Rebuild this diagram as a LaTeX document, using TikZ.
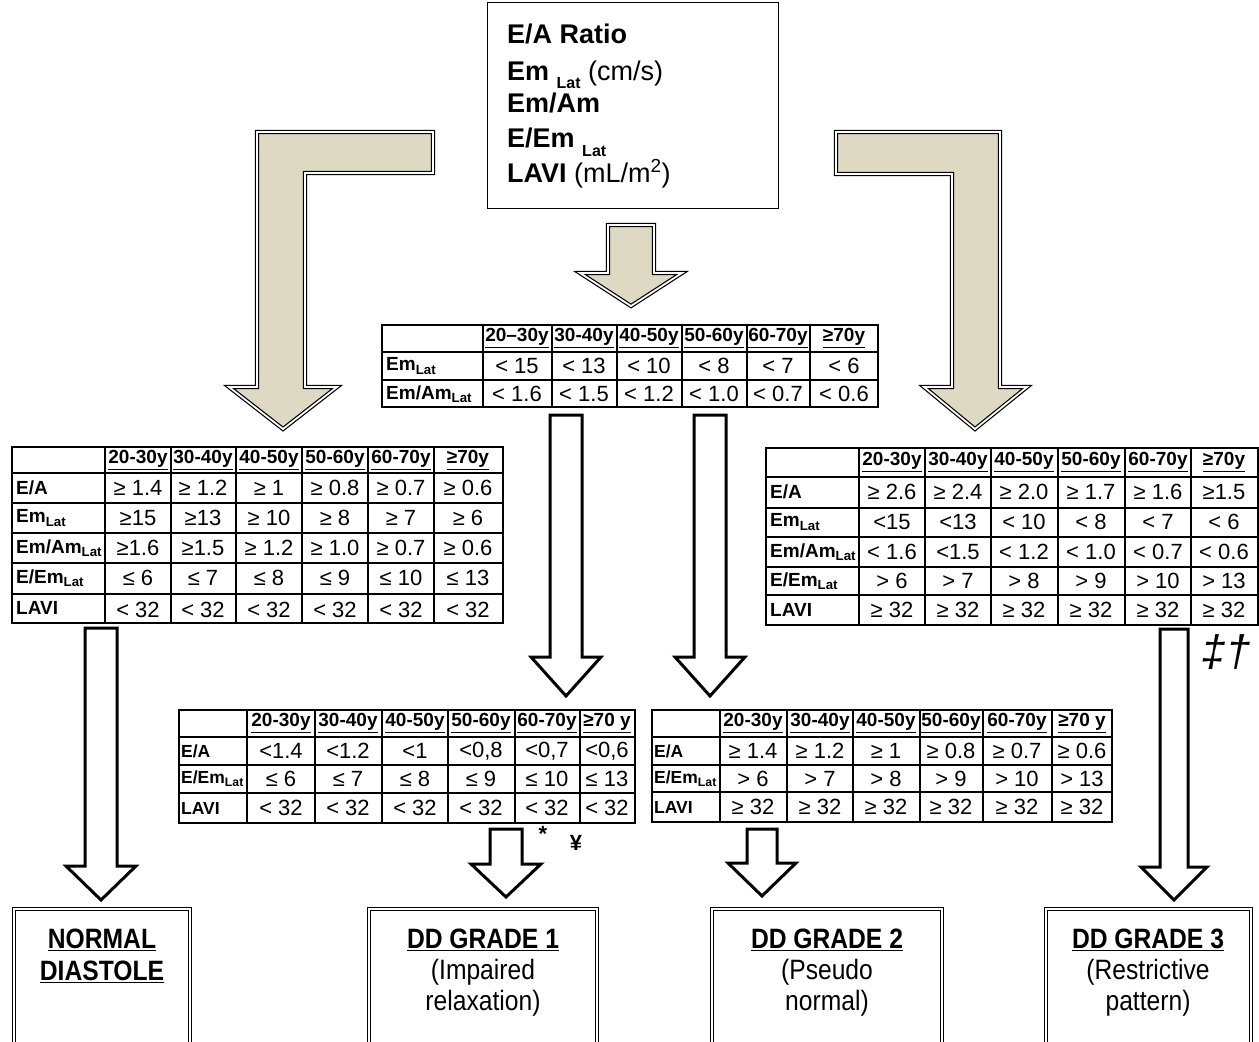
\documentclass[tikz,border=0pt]{standalone}
\usepackage{fontspec}
\setmainfont{Liberation Sans}
\newfontfamily\narrowsans[FakeStretch=0.88]{Liberation Sans}
\definecolor{arrowbeige}{HTML}{DDD9C3}
\newcommand{\Lat}{\textsubscript{Lat}}

\begin{document}
\begin{tikzpicture}[x=1pt, y=-1pt, line join=miter,
    cell/.style={font=\fontsize{22}{24}\selectfont, inner sep=0pt},
    hdr/.style={font=\fontsize{19}{22}\selectfont\bfseries, inner sep=0pt},
    lbl/.style={font=\fontsize{19}{22}\selectfont\bfseries, anchor=west, inner sep=0pt},
    smalllbl/.style={lbl, font=\fontsize{17.5}{20}\selectfont\bfseries},
    tabline/.style={line width=1.7pt},
    bigarrow/.style={draw=black, fill=arrowbeige, double=white, double distance=1.8pt, line width=1.2pt},
    hollow/.style={draw=black, fill=white, line width=3pt},
    result/.style={draw=black, double=white, double distance=2pt, line width=1.3pt},
    restxt/.style={font=\narrowsans\fontsize{28}{31}\selectfont, inner sep=0pt},
    toptxt/.style={font=\fontsize{27}{30}\selectfont\bfseries, anchor=base west, inner sep=0pt}]
    \useasboundingbox (0,0) rectangle (1259,1042);
    \clip (0,0) rectangle (1259,1042);

    % quadro dos parametros
    \node[draw, line width=1.3pt, minimum width=291pt, minimum height=206pt, anchor=north west, inner sep=0pt] (params) at (487,2) {};
    \node[toptxt] (pEA) at (507,43) {E/A Ratio};
    \node[toptxt] (pEm) at (507,80) {Em \raisebox{-8pt}{\fontsize{16}{16}\selectfont Lat} \mdseries(cm/s)};
    \node[toptxt] (pEmAm) at (507,112) {Em/Am};
    \node[toptxt] (pEEm) at (507,147) {E/Em \raisebox{-9pt}{\fontsize{16}{16}\selectfont Lat}};
    \node[toptxt] (pLAVI) at (507,182) {LAVI \mdseries(mL/m\textsuperscript{2})};

    % setas beges
    \draw[bigarrow] (433,132) -- (257,132) -- (257,387) -- (229,387) -- (283,429) -- (337,387) -- (305,387) -- (305,173) -- (433,173) -- cycle;
    \draw[bigarrow] (836,132) -- (1000,132) -- (1000,387) -- (1027,387) -- (975,429) -- (924,387) -- (952,387) -- (952,174) -- (836,174) -- cycle;
    \draw[bigarrow] (608,225) -- (654,225) -- (654,273) -- (682,273) -- (631,306) -- (580,273) -- (608,273) -- cycle;

    % tabela central (Em e Em/Am)
    \draw[tabline] (382,325) rectangle (878,407);
    \foreach \x in {483,552,617,682,747,810} \draw[tabline] (\x,325) -- (\x,407);
    \foreach \y in {352,380} \draw[tabline] (382,\y) -- (878,\y);
    \node[lbl] (mEm) at (386,366) {Em\Lat};
    \node[lbl] (mEmAm) at (386,394) {Em/Am\Lat};
    \foreach \x/\h/\va/\vb [count=\i] in {
        517/20–30y/< 15/< 1.6,
        584/30-40y/< 13/< 1.5,
        649/40-50y/< 10/< 1.2,
        714/50-60y/< 8/< 1.0,
        778/60-70y/< 7/< 0.7,
        844/≥70y/< 6/< 0.6}{
      \node[hdr] (mh\i) at (\x,338) {\underline{\h}};
      \node[cell] (ma\i) at (\x,366) {\va};
      \node[cell] (mb\i) at (\x,394) {\vb};
    }

    % tabela: diastole normal
    \draw[tabline] (12,447) rectangle (503,623);
    \foreach \x in {105,171,236,302,368,434} \draw[tabline] (\x,447) -- (\x,623);
    \foreach \y in {473,503,533,563,594} \draw[tabline] (12,\y) -- (503,\y);
    \node[lbl] (nEA) at (16,488) {E/A};
    \node[lbl] (nEm) at (16,518) {Em\Lat};
    \node[lbl] (nEmAm) at (16,548) {Em/Am\Lat};
    \node[lbl] (nEEm) at (16,578) {E/Em\Lat};
    \node[lbl] (nLAVI) at (16,608) {LAVI};
    \foreach \x/\h/\va/\vb/\vc/\vd/\ve [count=\i] in {
        138/20-30y/≥ 1.4/≥15/≥1.6/≤ 6/< 32,
        203/30-40y/≥ 1.2/≥13/≥1.5/≤ 7/< 32,
        269/40-50y/≥ 1/≥ 10/≥ 1.2/≤ 8/< 32,
        335/50-60y/≥ 0.8/≥ 8/≥ 1.0/≤ 9/< 32,
        401/60-70y/≥ 0.7/≥ 7/≥ 0.7/≤ 10/< 32,
        468/≥70y/≥ 0.6/≥ 6/≥ 0.6/≤ 13/< 32}{
      \node[hdr] (nh\i) at (\x,460) {\underline{\h}};
      \node[cell] (na\i) at (\x,488) {\va};
      \node[cell] (nb\i) at (\x,518) {\vb};
      \node[cell] (nc\i) at (\x,548) {\vc};
      \node[cell] (nd\i) at (\x,578) {\vd};
      \node[cell] (ne\i) at (\x,610) {\ve};
    }

    % tabela: grau 3 (restritivo)
    \draw[tabline] (766,448) rectangle (1258,625);
    \foreach \x in {859,925,991,1058,1125,1191} \draw[tabline] (\x,448) -- (\x,625);
    \foreach \y in {477,508,537,567,595} \draw[tabline] (766,\y) -- (1258,\y);
    \node[lbl] (rEA) at (770,492) {E/A};
    \node[lbl] (rEm) at (770,522) {Em\Lat};
    \node[lbl] (rEmAm) at (770,552) {Em/Am\Lat};
    \node[lbl] (rEEm) at (770,581) {E/Em\Lat};
    \node[lbl] (rLAVI) at (770,610) {LAVI};
    \foreach \x/\h/\va/\vb/\vc/\vd/\ve [count=\i] in {
        892/20-30y/≥ 2.6/<15/< 1.6/> 6/≥ 32,
        958/30-40y/≥ 2.4/<13/<1.5/> 7/≥ 32,
        1024/40-50y/≥ 2.0/< 10/< 1.2/> 8/≥ 32,
        1091/50-60y/≥ 1.7/< 8/< 1.0/> 9/≥ 32,
        1158/60-70y/≥ 1.6/< 7/< 0.7/> 10/≥ 32,
        1224/≥70y/≥1.5/< 6/< 0.6/> 13/≥ 32}{
      \node[hdr] (rh\i) at (\x,462) {\underline{\h}};
      \node[cell] (ra\i) at (\x,492) {\va};
      \node[cell] (rb\i) at (\x,522) {\vb};
      \node[cell] (rc\i) at (\x,552) {\vc};
      \node[cell] (rd\i) at (\x,581) {\vd};
      \node[cell] (re\i) at (\x,610) {\ve};
    }

    % tabela: grau 1 (relaxamento alterado)
    \draw[tabline] (179,710) rectangle (635,823);
    \foreach \x in {247,315,382,448,515,580} \draw[tabline] (\x,710) -- (\x,823);
    \foreach \y in {737,765,793} \draw[tabline] (179,\y) -- (635,\y);
    \node[smalllbl] (gEA) at (181,751) {E/A};
    \node[smalllbl] (gEEm) at (181,779) {E/Em\Lat};
    \node[smalllbl] (gLAVI) at (181,808) {LAVI};
    \foreach \x/\h/\va/\vb/\vc [count=\i] in {
        281/20-30y/<1.4/≤ 6/< 32,
        348/30-40y/<1.2/≤ 7/< 32,
        415/40-50y/<1/≤ 8/< 32,
        481/50-60y/{<0,8}/≤ 9/< 32,
        547/60-70y/{<0,7}/≤ 10/< 32,
        607/≥70 y/{<0,6}/≤ 13/< 32}{
      \node[hdr] (gh\i) at (\x,723) {\underline{\h}};
      \node[cell] (ga\i) at (\x,751) {\va};
      \node[cell] (gb\i) at (\x,779) {\vb};
      \node[cell] (gc\i) at (\x,808) {\vc};
    }

    % tabela: grau 2 (pseudonormal)
    \draw[tabline] (652,710) rectangle (1112,822);
    \foreach \x in {720,787,853,920,983,1052} \draw[tabline] (\x,710) -- (\x,822);
    \foreach \y in {737,765,792} \draw[tabline] (652,\y) -- (1112,\y);
    \node[smalllbl] (pEA) at (654,751) {E/A};
    \node[smalllbl] (pEEm) at (654,779) {E/Em\Lat};
    \node[smalllbl] (pLAVI) at (654,807) {LAVI};
    \foreach \x/\h/\va/\vb/\vc [count=\i] in {
        753/20-30y/≥ 1.4/> 6/≥ 32,
        820/30-40y/≥ 1.2/> 7/≥ 32,
        886/40-50y/≥ 1/> 8/≥ 32,
        951/50-60y/≥ 0.8/> 9/≥ 32,
        1017/60-70y/≥ 0.7/> 10/≥ 32,
        1082/≥70 y/≥ 0.6/> 13/≥ 32}{
      \node[hdr] (ph\i) at (\x,723) {\underline{\h}};
      \node[cell] (pa\i) at (\x,751) {\va};
      \node[cell] (pb\i) at (\x,779) {\vb};
      \node[cell] (pc\i) at (\x,807) {\vc};
    }

    % setas vazadas: centro x, meia largura, topo, base da ponta, bico
    \foreach \cx/\w/\top/\base/\tip in {101/16/628/866/900, 566/16/415/657/696, 710/16/415/657/696,
        506/16/829/864/897, 762/15/829/863/896, 1174/14/629/867/900}
      \draw[hollow] ({\cx-\w},\top) -- ({\cx+\w},\top) -- ({\cx+\w},\base) -- ({\cx+\w+19},\base)
        -- (\cx,\tip) -- ({\cx-\w-19},\base) -- ({\cx-\w},\base) -- cycle;

    % notas
    \node[font=\fontsize{22}{24}\selectfont\bfseries] (star) at (543,834) {*};
    \node[font=\fontsize{22}{24}\selectfont\bfseries] (yen) at (576,843) {¥};
    \node[font=\fontsize{44}{46}\selectfont\itshape] (dags) at (1226,652) {‡†};

    % caixas de resultado
    \draw[result] (14,909) rectangle (190,1060);
    \draw[result] (369,909) rectangle (597,1060);
    \draw[result] (712,909) rectangle (942,1060);
    \draw[result] (1046,909) rectangle (1251,1060);
    \node[restxt] (normal) at (102,940) {\bfseries\underline{NORMAL}};
    \node[restxt] (diast) at (102,972) {\bfseries\underline{DIASTOLE}};
    \node[restxt] (gradeA) at (483,940) {\bfseries\underline{DD GRADE 1}};
    \node[restxt] (gradeAa) at (483,972) {(Impaired};
    \node[restxt] (gradeAb) at (483,1003) {relaxation)};
    \node[restxt] (gradeB) at (827,940) {\bfseries\underline{DD GRADE 2}};
    \node[restxt] (gradeBa) at (827,972) {(Pseudo};
    \node[restxt] (gradeBb) at (827,1003) {normal)};
    \node[restxt] (gradeC) at (1148,940) {\bfseries\underline{DD GRADE 3}};
    \node[restxt] (gradeCa) at (1148,972) {(Restrictive};
    \node[restxt] (gradeCb) at (1148,1003) {pattern)};
\end{tikzpicture}
\end{document}
